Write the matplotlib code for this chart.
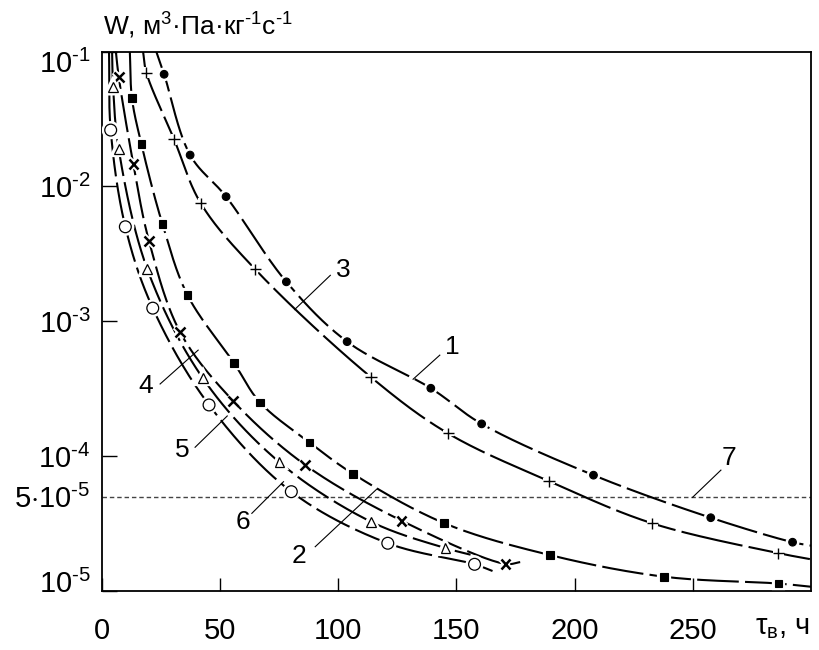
import numpy as np
import matplotlib
matplotlib.use("Agg")
import matplotlib.pyplot as plt
import matplotlib.patheffects as pe
import matplotlib.transforms as mtransforms
from matplotlib.ticker import FixedLocator, NullLocator, FixedFormatter

plt.rcParams['font.family'] = ['Liberation Sans', 'DejaVu Sans']
plt.rcParams['mathtext.fontset'] = 'custom'
plt.rcParams['mathtext.rm'] = 'Liberation Sans'
plt.rcParams['mathtext.it'] = 'Liberation Sans:italic'
plt.rcParams['mathtext.bf'] = 'Liberation Sans:bold'

HY = '\u2010'  # short hyphen used in the superscripts

# ---------------- data ----------------
# curve 1 : filled circles
c1_x = [26.4, 37.4, 52.6, 78.1, 103.8, 139.2, 160.7, 208.0, 257.6, 292.2]
c1_y = [0.068, 0.0171, 0.0084, 0.00196, 7.05e-4, 3.18e-4, 1.73e-4, 7.2e-5, 3.48e-5, 2.29e-5]
c1_start = (23.1, 0.1)
c1_end = (300.0, 2.16e-5)

# curve 2 : filled squares
c2_x = [12.8, 16.8, 25.7, 36.3, 56.0, 67.0, 87.9, 106.4, 144.7, 189.5, 237.9, 286.3]
c2_y = [0.0451, 0.0206, 0.00526, 0.00156, 4.88e-4, 2.49e-4, 1.26e-4, 7.35e-5,
        3.18e-5, 1.84e-5, 1.27e-5, 1.13e-5]
c2_start = (11.9, 0.1)
c2_end = (300.0, 1.07e-5)

# curve 3 : plus
c3_x = [18.9, 30.6, 41.9, 64.9, 113.9, 146.5, 189.2, 232.9, 286.2]
c3_y = [0.0698, 0.0224, 0.0075, 0.00243, 3.84e-4, 1.47e-4, 6.5e-5, 3.16e-5, 1.90e-5]
c3_start = (17.5, 0.1)
c3_end = (300.0, 1.71e-5)

# curve 4 : crosses
c4_x = [7.2, 13.4, 20.0, 33.2, 55.5, 86.1, 126.8, 170.8]
c4_y = [0.0652, 0.0146, 0.00394, 8.28e-4, 2.57e-4, 8.57e-5, 3.31e-5, 1.58e-5]
c4_start = (6.0, 0.1)
c4_end = (177.0, 1.63e-5)

# curve 5 : open triangles
c5_x = [4.8, 7.2, 19.3, 42.8, 75.2, 113.9, 145.4]
c5_y = [0.055, 0.0189, 0.00243, 3.77e-4, 8.97e-5, 3.25e-5, 2.07e-5]
c5_start = (4.4, 0.1)
c5_end = (156.0, 1.85e-5)

# curve 6 : open circles
c6_x = [3.8, 10.0, 21.6, 45.4, 80.2, 121.0, 157.7]
c6_y = [0.0262, 0.00502, 0.00125, 2.39e-4, 5.43e-5, 2.25e-5, 1.57e-5]
c6_start = (3.1, 0.1)
c6_end = (165.3, 1.40e-5)

# line 7 : limit level
limit_w = 5e-5

x_ticks = [0, 50, 100, 150, 200, 250]
y_ticks = [1e-5, 5e-5, 1e-4, 1e-3, 1e-2, 1e-1]
y_tick_labels = [r'$10^{%s5}$' % HY, r'$5{\cdot}10^{%s5}$' % HY, r'$10^{%s4}$' % HY,
                 r'$10^{%s3}$' % HY, r'$10^{%s2}$' % HY, r'$10^{%s1}$' % HY]

# curve labels: text, text position, leader start, leader end
curve_labels = [
    ('1', (148.2, 6.47e-4), (131.7, 3.71e-4), (143.0, 5.6e-4)),
    ('2', (83.5, 1.80e-5), (90.3, 2.12e-5), (116.7, 5.75e-5)),
    ('3', (102.2, 2.4e-3), (81.6, 1.22e-3), (96.7, 2.19e-3)),
    ('4', (18.6, 3.3e-4), (40.8, 6.1e-4), (24.7, 3.42e-4)),
    ('5', (33.9, 1.11e-4), (53.1, 1.98e-4), (39.5, 1.16e-4)),
    ('6', (59.6, 3.24e-5), (76.9, 6.44e-5), (63.5, 3.75e-5)),
    ('7', (265.3, 9.66e-5), (249.9, 4.93e-5), (261.9, 7.85e-5)),
]

# ---------------- helpers ----------------
SX, SY = 2.361, 134.75  # pixel scale, for even smoothing


def smooth_curve(xs, ys, n=40, alpha=0.5):
    P = np.column_stack([np.asarray(xs) * SX, np.log10(ys) * SY])
    P = np.vstack([2 * P[0] - P[1], P, 2 * P[-1] - P[-2]])
    out = []
    for i in range(len(P) - 3):
        p0, p1, p2, p3 = P[i:i + 4]
        t0 = 0.0
        t1 = t0 + np.linalg.norm(p1 - p0) ** alpha
        t2 = t1 + np.linalg.norm(p2 - p1) ** alpha
        t3 = t2 + np.linalg.norm(p3 - p2) ** alpha
        t = np.linspace(t1, t2, n)[:, None]
        A1 = (t1 - t) / (t1 - t0) * p0 + (t - t0) / (t1 - t0) * p1
        A2 = (t2 - t) / (t2 - t1) * p1 + (t - t1) / (t2 - t1) * p2
        A3 = (t3 - t) / (t3 - t2) * p2 + (t - t2) / (t3 - t2) * p3
        B1 = (t2 - t) / (t2 - t0) * A1 + (t - t0) / (t2 - t0) * A2
        B2 = (t3 - t) / (t3 - t1) * A2 + (t - t1) / (t3 - t1) * A3
        C = (t2 - t) / (t2 - t1) * B1 + (t - t1) / (t2 - t1) * B2
        out.append(C if i == 0 else C[1:])
    C = np.vstack(out)
    return C[:, 0] / SX, 10 ** (C[:, 1] / SY)


# ---------------- figure ----------------
fig = plt.figure(figsize=(8.19, 6.5), dpi=100)
ax = fig.add_axes([101.7 / 819, 1 - 590.7 / 650, (811 - 101.7) / 819, (590.7 - 51.7) / 650])
ax.set_yscale('log')
ax.set_xlim(0, 300)
ax.set_ylim(1e-5, 1e-1)

halo = [pe.Stroke(linewidth=4.5, foreground='white'), pe.Normal()]

curves = [
    (c1_x, c1_y, c1_start, c1_end, dict(marker='o', ms=5.5, mfc='black', mec='black', mew=0.8), (0, (20, 3))),
    (c2_x, c2_y, c2_start, c2_end, dict(marker='s', ms=5.5, mfc='black', mec='black', mew=0.8), (0, (20, 3))),
    (c3_x, c3_y, c3_start, c3_end, dict(marker='+', ms=8, mec='black', mew=1.0), (0, (30, 3))),
    (c4_x, c4_y, c4_start, c4_end, dict(marker='x', ms=7, mec='black', mew=1.8), (0, (18, 3))),
    (c5_x, c5_y, c5_start, c5_end, dict(marker='^', ms=7, mfc='white', mec='black', mew=0.9), (0, (18, 3))),
    (c6_x, c6_y, c6_start, c6_end, dict(marker='o', ms=8.5, mfc='white', mec='black', mew=0.9), (0, (18, 3))),
]

for xs, ys, st, en, mk, ls in curves:
    cx = [st[0]] + list(xs) + [en[0]]
    cy = [st[1]] + list(ys) + [en[1]]
    sx, sy = smooth_curve(cx, cy)
    ax.plot(sx, sy, color='black', lw=1.5, linestyle=ls, zorder=2,
            dash_capstyle='butt')
    ln, = ax.plot(xs, ys, linestyle='none', zorder=4, **mk)
    ln.set_path_effects(halo)

ax.axhline(limit_w, color='#444444', lw=1.0, linestyle=(0, (3.2, 2.1)), zorder=1.5)

for txt, tpos, l0, l1 in curve_labels:
    ax.plot([l0[0], l1[0]], [l0[1], l1[1]], color='black', lw=0.8, zorder=3)
    ax.text(tpos[0], tpos[1], txt, fontsize=19, ha='center', va='center', zorder=5)

# ticks
ax.xaxis.set_major_locator(FixedLocator(x_ticks))
ax.xaxis.set_minor_locator(NullLocator())
ax.yaxis.set_major_locator(FixedLocator(y_ticks))
ax.yaxis.set_major_formatter(FixedFormatter(y_tick_labels))
ax.yaxis.set_minor_locator(NullLocator())
ax.tick_params(axis='x', direction='in', length=9.5, width=1.0, pad=19, labelsize=21)
ax.tick_params(axis='y', direction='in', length=10.5, width=1.0, pad=8, labelsize=21)
ax.set_xticklabels([str(v) for v in x_ticks])

# no tick mark at 5e-5
for t, v in zip(ax.yaxis.get_major_ticks(), y_ticks):
    if v == 5e-5:
        t.tick1line.set_visible(False)

fig.canvas.draw()
ylabels = ax.get_yticklabels()
ylabels[-1].set_transform(ylabels[-1].get_transform() +
                          mtransforms.ScaledTranslation(0, -10 / 100, fig.dpi_scale_trans))
ylabels[0].set_transform(ylabels[0].get_transform() +
                         mtransforms.ScaledTranslation(0, 9 / 100, fig.dpi_scale_trans))

for s in ax.spines.values():
    s.set_linewidth(1.3)

fig.text(103 / 819, 1 - 35 / 650,
         r'W, м$^3$·Па·кг$^{%s1}$с$^{%s1}$' % (HY, HY), fontsize=19,
         ha='left', va='baseline')
fig.text(755 / 819, 1 - 634 / 650, r'τ$_{\mathrm{в}}$, ч', fontsize=21,
         ha='left', va='baseline')

fig.savefig('out.png', dpi=100)
